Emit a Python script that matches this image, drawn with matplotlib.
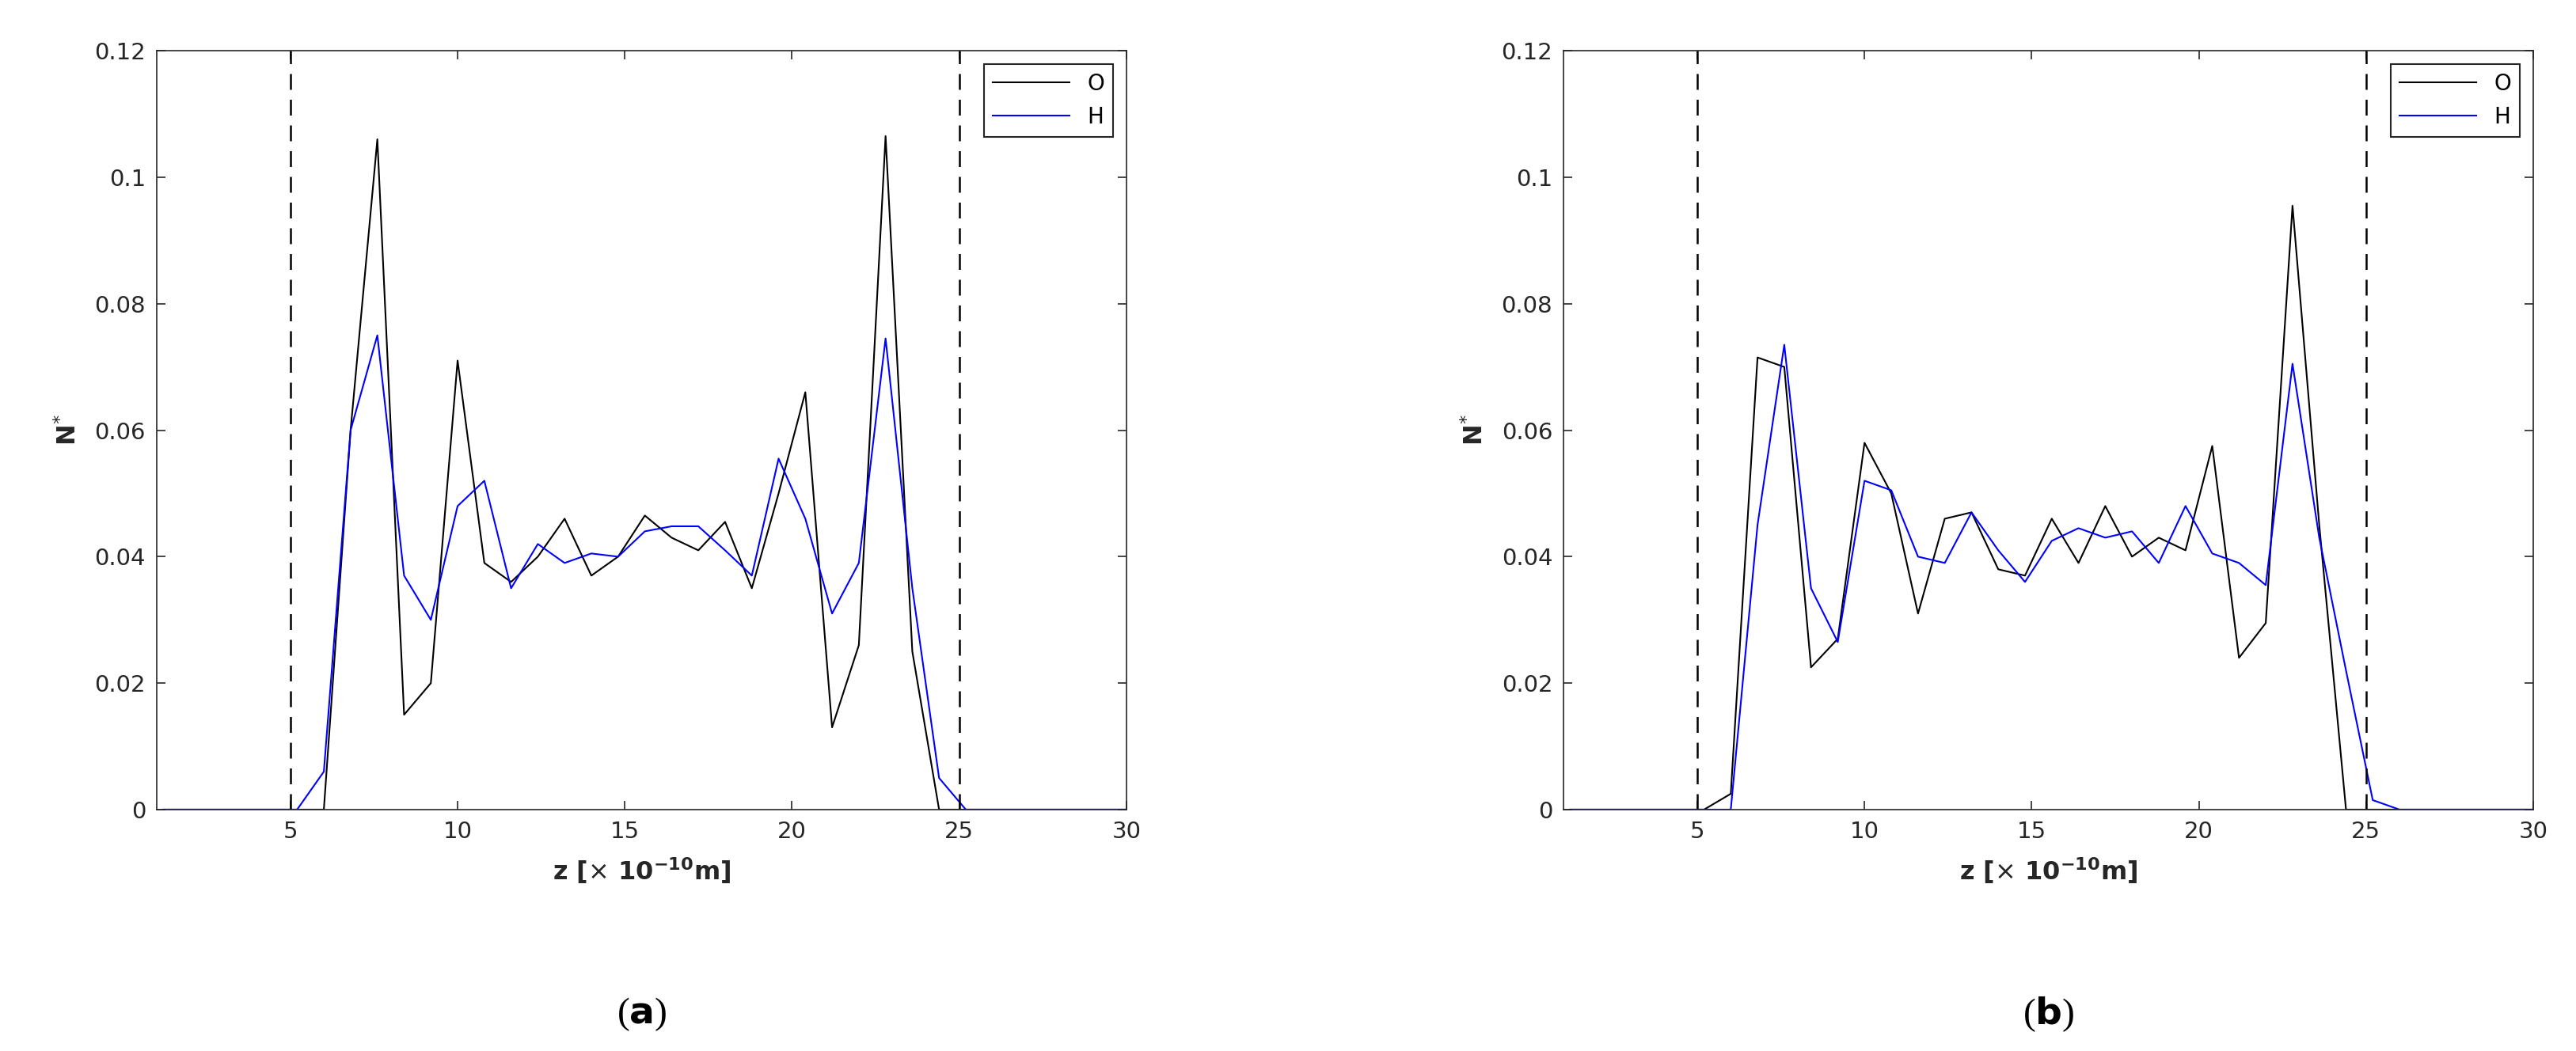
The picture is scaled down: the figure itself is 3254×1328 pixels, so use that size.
import numpy as np
import matplotlib
matplotlib.use("Agg")
import matplotlib.pyplot as plt

z = [1.2 + 0.8 * k for k in range(37)]
O_a = [0]*6 + [0.0, 0.060, 0.106, 0.015, 0.020, 0.071, 0.039, 0.036, 0.040, 0.046, 0.037, 0.040,
       0.0465, 0.043, 0.041, 0.0455, 0.035, 0.050, 0.066, 0.013, 0.026, 0.1065, 0.025, 0.0, 0.0] + [0]*6
H_a = [0]*5 + [0.0, 0.006, 0.060, 0.075, 0.037, 0.030, 0.048, 0.052, 0.035, 0.042, 0.039, 0.0405, 0.040,
       0.044, 0.0448, 0.0448, 0.041, 0.037, 0.0555, 0.046, 0.031, 0.039, 0.0745, 0.035, 0.005, 0.0] + [0]*6
O_b = [0]*5 + [0.0, 0.0025, 0.0715, 0.070, 0.0225, 0.027, 0.058, 0.050, 0.031, 0.046, 0.047, 0.038, 0.037,
       0.046, 0.039, 0.048, 0.040, 0.043, 0.041, 0.0575, 0.024, 0.0295, 0.0955, 0.045, 0.0, 0.0] + [0]*6
H_b = [0]*5 + [0.0, 0.0, 0.045, 0.0735, 0.035, 0.0265, 0.052, 0.0505, 0.040, 0.039, 0.047, 0.041, 0.036,
       0.0425, 0.0445, 0.043, 0.044, 0.039, 0.048, 0.0405, 0.039, 0.0355, 0.0705, 0.043, 0.022, 0.0015, 0.0] + [0]*5
xticks = [5, 10, 15, 20, 25, 30]
yticks = [0, 0.02, 0.04, 0.06, 0.08, 0.1, 0.12]
yticklabels = ["0", "0.02", "0.04", "0.06", "0.08", "0.1", "0.12"]

fig = plt.figure(figsize=(32.55, 13.28), dpi=100)
gray = "#262626"
for left, O, H, lab in [(0.0608, O_a, H_a, "a"), (0.6068, O_b, H_b, "b")]:
    ax = fig.add_axes([left, 0.2297, 0.3763, 0.722])
    ax.plot(z, O, color="black", lw=1.5, label="O")
    ax.plot(z, H, color="blue", lw=1.5, label="H")
    ax.axvline(5, color="black", ls=(0, (8, 5)), lw=1.8)
    ax.axvline(25, color="black", ls=(0, (8, 5)), lw=1.8)
    ax.set_xlim(1, 30)
    ax.set_ylim(0, 0.12)
    ax.set_xticks(xticks)
    ax.set_yticks(yticks)
    ax.set_yticklabels(yticklabels)
    ax.tick_params(direction="in", top=True, right=True, labelsize=21, colors=gray,
                   labelcolor=gray, length=8, width=1.2, pad=10)
    for s in ax.spines.values():
        s.set_color(gray)
        s.set_linewidth(1.2)
    ax.set_xlabel(r"z [$\times$ 10$^{\mathbf{-10}}$m]", fontsize=23, fontweight="bold", color=gray, labelpad=12)
    ax.set_ylabel(r"N$^{*}$", fontsize=23, fontweight="bold", color=gray, labelpad=12)
    leg = ax.legend(loc="upper right", fontsize=20, fancybox=False, edgecolor=gray,
                    handlelength=3.5, borderaxespad=0.6, framealpha=1)
    leg.get_frame().set_linewidth(1.5)
    ax.text(0.5, -0.27, "(" + r"$\mathbf{" + lab + "}$" + ")", transform=ax.transAxes,
            ha="center", va="center", fontsize=34, family="Liberation Serif")
fig.savefig("out.png", dpi=100)
